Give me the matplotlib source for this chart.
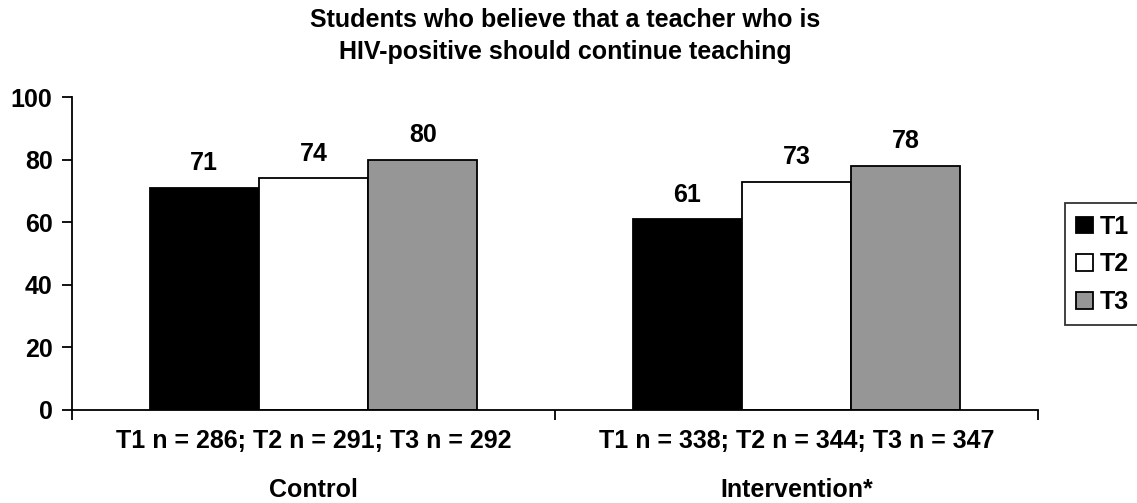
import numpy as np
import matplotlib.pyplot as plt

plt.rcParams['font.family'] = ['Liberation Sans', 'DejaVu Sans']
plt.rcParams['font.weight'] = 'bold'

groups = ['Control', 'Intervention*']
group_n = ['T1 n = 286; T2 n = 291; T3 n = 292',
           'T1 n = 338; T2 n = 344; T3 n = 347']
series = ['T1', 'T2', 'T3']
values = {
    'T1': [71, 61],
    'T2': [74, 73],
    'T3': [80, 78],
}
colors = ['#000000', '#ffffff', '#969696']

fs = 18

fig = plt.figure(figsize=(11.37, 5.03), dpi=100)
ax = fig.add_axes([0.0633, 0.185, 0.8497, 0.622])

x = np.arange(len(groups))
width = 0.226
for i, s in enumerate(series):
    bars = ax.bar(x + (i - 1) * width, values[s], width, color=colors[i],
                  edgecolor='black', linewidth=1.3, label=s)
    ax.bar_label(bars, padding=9, fontsize=fs, fontweight='bold')

ax.set_xlim(-0.5, 1.5)
ax.set_ylim(0, 100)
ax.set_yticks(range(0, 101, 20))
ax.set_xticks([-0.5, 0.5, 1.5])
ax.set_xticklabels([])
ax.tick_params(axis='both', direction='out', length=7, width=1.3,
               labelsize=fs, pad=7)
for lab in ax.get_yticklabels():
    lab.set_fontweight('bold')
for sp in ['top', 'right']:
    ax.spines[sp].set_visible(False)
for sp in ['left', 'bottom']:
    ax.spines[sp].set_linewidth(1.3)

for i in range(len(groups)):
    ax.annotate(group_n[i], (x[i], 0), xycoords=('data', 'axes fraction'),
                xytext=(0, -14), textcoords='offset points',
                ha='center', va='top', fontsize=fs, fontweight='bold')
    ax.annotate(groups[i], (x[i], 0), xycoords=('data', 'axes fraction'),
                xytext=(0, -49), textcoords='offset points',
                ha='center', va='top', fontsize=fs, fontweight='bold')

fig.text(0.497, 0.985,
         'Students who believe that a teacher who is\nHIV-positive should continue teaching',
         ha='center', va='top', fontsize=fs, fontweight='bold', linespacing=1.45)

leg = ax.legend(loc='center left', bbox_to_anchor=(1.028, 0.465),
                fontsize=fs, frameon=True, fancybox=False, edgecolor='black',
                handlelength=0.65, handleheight=0.65, handletextpad=0.3,
                borderpad=0.45, labelspacing=0.55, borderaxespad=0)
leg.get_frame().set_linewidth(1.3)
for t in leg.get_texts():
    t.set_fontweight('bold')

fig.savefig('out.png', dpi=100)
